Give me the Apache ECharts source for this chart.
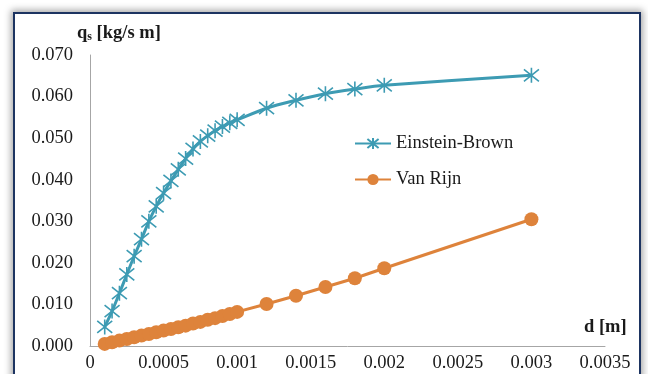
<!DOCTYPE html>
<html>
<head>
<meta charset="utf-8">
<script src="https://cdn.jsdelivr.net/npm/echarts@6/dist/echarts.min.js"></script>
<style>
    html, body { margin: 0; padding: 0; background: #ffffff; overflow: hidden; }
    #frame {
        position: absolute;
        left: 13px;
        top: 12px;
        width: 624px;
        height: 390px;
        border: 2px solid #1d3461;
        box-shadow: 0 0 7px 2px rgba(0, 0, 0, 0.35);
        background: #ffffff;
    }
    #chart { width: 624px; height: 390px; }
</style>
</head>
<body>
<div id="frame"><div id="chart"></div></div>
<script>
const dValues = [0.0001, 0.00015, 0.0002, 0.00025, 0.0003, 0.00035, 0.0004, 0.00045, 0.0005, 0.00055,
    0.0006, 0.00065, 0.0007, 0.00075, 0.0008, 0.00085, 0.0009, 0.00095, 0.001,
    0.0012, 0.0014, 0.0016, 0.0018, 0.002, 0.003];
const einsteinBrown = [0.0046, 0.0084, 0.0127, 0.0172, 0.0216, 0.0257, 0.0300, 0.0336, 0.0368, 0.0397,
    0.0425, 0.0451, 0.0474, 0.0492, 0.0506, 0.0518, 0.0528, 0.0537, 0.0544,
    0.0572, 0.0591, 0.0607, 0.0618, 0.0627, 0.0651];
const vanRijn = [0.0005, 0.0009, 0.0013, 0.0017, 0.0021, 0.0025, 0.0029, 0.0033, 0.0037, 0.0041,
    0.0045, 0.0049, 0.0054, 0.0058, 0.0063, 0.0067, 0.0072, 0.0077, 0.0082,
    0.0101, 0.0121, 0.0142, 0.0163, 0.0187, 0.0305];
const xTickLabels = ["0", "0.0005", "0.001", "0.0015", "0.002", "0.0025", "0.003", "0.0035"];
const seriesNames = ["Einstein-Brown", "Van Rijn"];

const FONT = "Liberation Serif";
const FONT_SIZE = 18.5;
const TEAL = "#3d9bb3";
const ORANGE = "#de833b";
const STAR = "path://M0,-10 L0,10 M-8,-8 L8,8 M-8,8 L8,-8";

const chart = echarts.init(document.getElementById("chart"));

chart.setOption({
    animation: false,
    textStyle: { fontFamily: FONT },
    grid: {
        left: 75,
        top: 41,
        width: 515,
        height: 291
    },
    legend: {
        orient: "vertical",
        left: 334,
        top: 115,
        itemWidth: 36,
        itemHeight: 14,
        itemGap: 17,
        textStyle: { fontFamily: FONT, fontSize: FONT_SIZE, color: "#1a1a1a" },
        data: seriesNames
    },
    xAxis: {
        type: "value",
        min: 0,
        max: 0.0035,
        interval: 0.0005,
        axisLine: { lineStyle: { color: "#a6a6a6", width: 1 } },
        axisTick: { show: false },
        splitLine: { show: false },
        axisLabel: {
            margin: 8,
            fontFamily: FONT,
            fontSize: FONT_SIZE,
            color: "#1a1a1a",
            formatter: (v, i) => xTickLabels[i] ?? String(v)
        }
    },
    yAxis: {
        type: "value",
        min: 0,
        max: 0.07,
        interval: 0.01,
        axisLine: { show: true, lineStyle: { color: "#a6a6a6", width: 1 } },
        axisTick: { show: false },
        splitLine: { show: false },
        axisLabel: {
            margin: 17,
            fontFamily: FONT,
            fontSize: FONT_SIZE,
            color: "#1a1a1a",
            formatter: v => v.toFixed(3)
        }
    },
    series: [{
        name: seriesNames[0],
        type: "line",
        smooth: 0.3,
        data: dValues.map((d, i) => [d, einsteinBrown[i]]),
        symbol: STAR,
        symbolSize: 15,
        lineStyle: { color: TEAL, width: 3 },
        itemStyle: { color: TEAL, borderColor: TEAL, borderWidth: 1.6 },
        z: 3
    }, {
        name: seriesNames[1],
        type: "line",
        data: dValues.map((d, i) => [d, vanRijn[i]]),
        symbol: "circle",
        symbolSize: 14,
        lineStyle: { color: ORANGE, width: 3 },
        itemStyle: { color: ORANGE },
        z: 2
    }],
    graphic: [{
        type: "text",
        left: 62,
        top: 10,
        style: {
            text: "{q|q}{s|s}{q| [kg/s m]}",
            rich: {
                q: { fontFamily: FONT, fontSize: FONT_SIZE, fontWeight: "bold", fill: "#1a1a1a" },
                s: { fontFamily: FONT, fontSize: 12, fontWeight: "bold", fill: "#1a1a1a", verticalAlign: "bottom", padding: [6, 0, 0, 0] }
            }
        }
    }, {
        type: "text",
        left: 569,
        top: 304,
        style: {
            text: "d [m]",
            fontFamily: FONT,
            fontSize: FONT_SIZE,
            fontWeight: "bold",
            fill: "#1a1a1a"
        }
    }]
});
</script>
</body>
</html>
